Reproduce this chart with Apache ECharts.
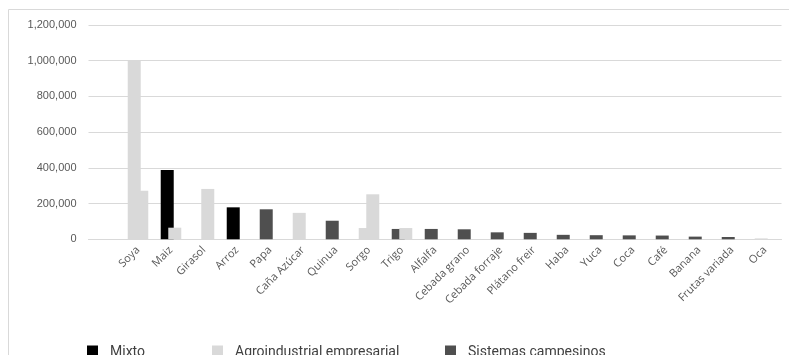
<!DOCTYPE html>
<html>
<head>
<meta charset="utf-8">
<script src="https://cdn.jsdelivr.net/npm/echarts@6/dist/echarts.min.js"></script>
<style>
  html, body { margin: 0; padding: 0; background: #fff; }
  #chart { width: 789px; height: 355px; }
</style>
</head>
<body>
<div id="chart"></div>
<script>
// cultivos (eje X)
var crops = ['Soya', 'Maiz', 'Girasol', 'Arroz', 'Papa', 'Caña Azúcar', 'Quinua', 'Sorgo', 'Trigo', 'Alfalfa',
  'Cebada grano', 'Cebada forraje', 'Plátano freir', 'Haba', 'Yuca', 'Coca', 'Café', 'Banana', 'Frutas variada', 'Oca'];

// tipos de sistema (leyenda)
var types = ['Mixto', 'Agroindustrial empresarial', 'Sistemas campesinos'];
var typeColors = ['#000000', '#d9d9d9', '#4f4f4f'];

// primera barra de cada cultivo y su tipo
var leftValues = [1000000, 388000, '-', 179000, 168000, 148000, 104000, 63000, 58000, 58000,
  56000, 39000, 36000, 25000, 23000, 22000, 21000, 15000, 13000, 5000];
var leftTypes = ['Agroindustrial empresarial', 'Mixto', '', 'Mixto', 'Sistemas campesinos', 'Agroindustrial empresarial',
  'Sistemas campesinos', 'Agroindustrial empresarial', 'Sistemas campesinos', 'Sistemas campesinos',
  'Sistemas campesinos', 'Sistemas campesinos', 'Sistemas campesinos', 'Sistemas campesinos', 'Sistemas campesinos',
  'Sistemas campesinos', 'Sistemas campesinos', 'Sistemas campesinos', 'Sistemas campesinos', 'Agroindustrial empresarial'];

// segunda barra (solapada a la derecha)
var rightValues = [272000, 65000, 282000, '-', '-', '-', '-', 252000, 63000, '-',
  '-', '-', '-', '-', '-', '-', '-', '-', '-', '-'];
var rightTypes = ['Agroindustrial empresarial', 'Agroindustrial empresarial', 'Agroindustrial empresarial', '', '', '', '',
  'Agroindustrial empresarial', 'Agroindustrial empresarial', '', '', '', '', '', '', '', '', '', '', ''];

var yTicks = [0, 200000, 400000, 600000, 800000, 1000000, 1200000];

var chart = echarts.init(document.getElementById('chart'));

// una serie por tipo y por posicion; categoria vacia al inicio
function buildSeries(values, typeList, stackName) {
  return types.map(function (t, i) {
    return {
      name: t,
      type: 'bar',
      stack: stackName,
      barWidth: 13,
      barGap: '-42%',
      itemStyle: { color: typeColors[i] },
      data: ['-'].concat(values.map(function (v, k) { return typeList[k] === t ? v : '-'; }))
    };
  });
}

var series = buildSeries(leftValues, leftTypes, 'L').concat(buildSeries(rightValues, rightTypes, 'R'));

var legendLefts = [82, 207, 440];
var legends = types.map(function (t, i) {
  return {
    data: [t],
    left: legendLefts[i],
    top: 340,
    itemWidth: 11,
    itemHeight: 13,
    itemGap: 13,
    icon: 'rect',
    selectedMode: false,
    textStyle: { fontFamily: 'Roboto', fontSize: 14, color: '#404040', padding: [0, 0, 0, 7] }
  };
});

var option = {
  animation: false,
  textStyle: { fontFamily: 'Open Sans' },
  graphic: [{
    type: 'rect',
    shape: { x: 8.5, y: 9.5, width: 800, height: 400 },
    style: { fill: 'none', stroke: '#d9d9d9', lineWidth: 1 },
    silent: true
  }],
  legend: legends,
  grid: { left: 88.5, right: 7.5, top: 25, bottom: 115.7 },
  xAxis: {
    type: 'category',
    data: [''].concat(crops),
    axisLine: { lineStyle: { color: '#d9d9d9' } },
    axisTick: { show: false },
    axisLabel: { interval: 0, rotate: 45, margin: 9, fontSize: 11, color: '#595959', fontFamily: 'Open Sans' }
  },
  yAxis: {
    type: 'value',
    min: yTicks[0],
    max: yTicks[yTicks.length - 1],
    interval: yTicks[1] - yTicks[0],
    axisLine: { show: false },
    axisTick: { show: false },
    splitLine: { lineStyle: { color: '#d9d9d9' } },
    axisLabel: {
      margin: 12,
      fontSize: 11,
      color: '#595959',
      fontFamily: 'Liberation Sans',
      formatter: function (v) { return v.toLocaleString('en-US'); }
    }
  },
  series: series
};

chart.setOption(option);
</script>
</body>
</html>
